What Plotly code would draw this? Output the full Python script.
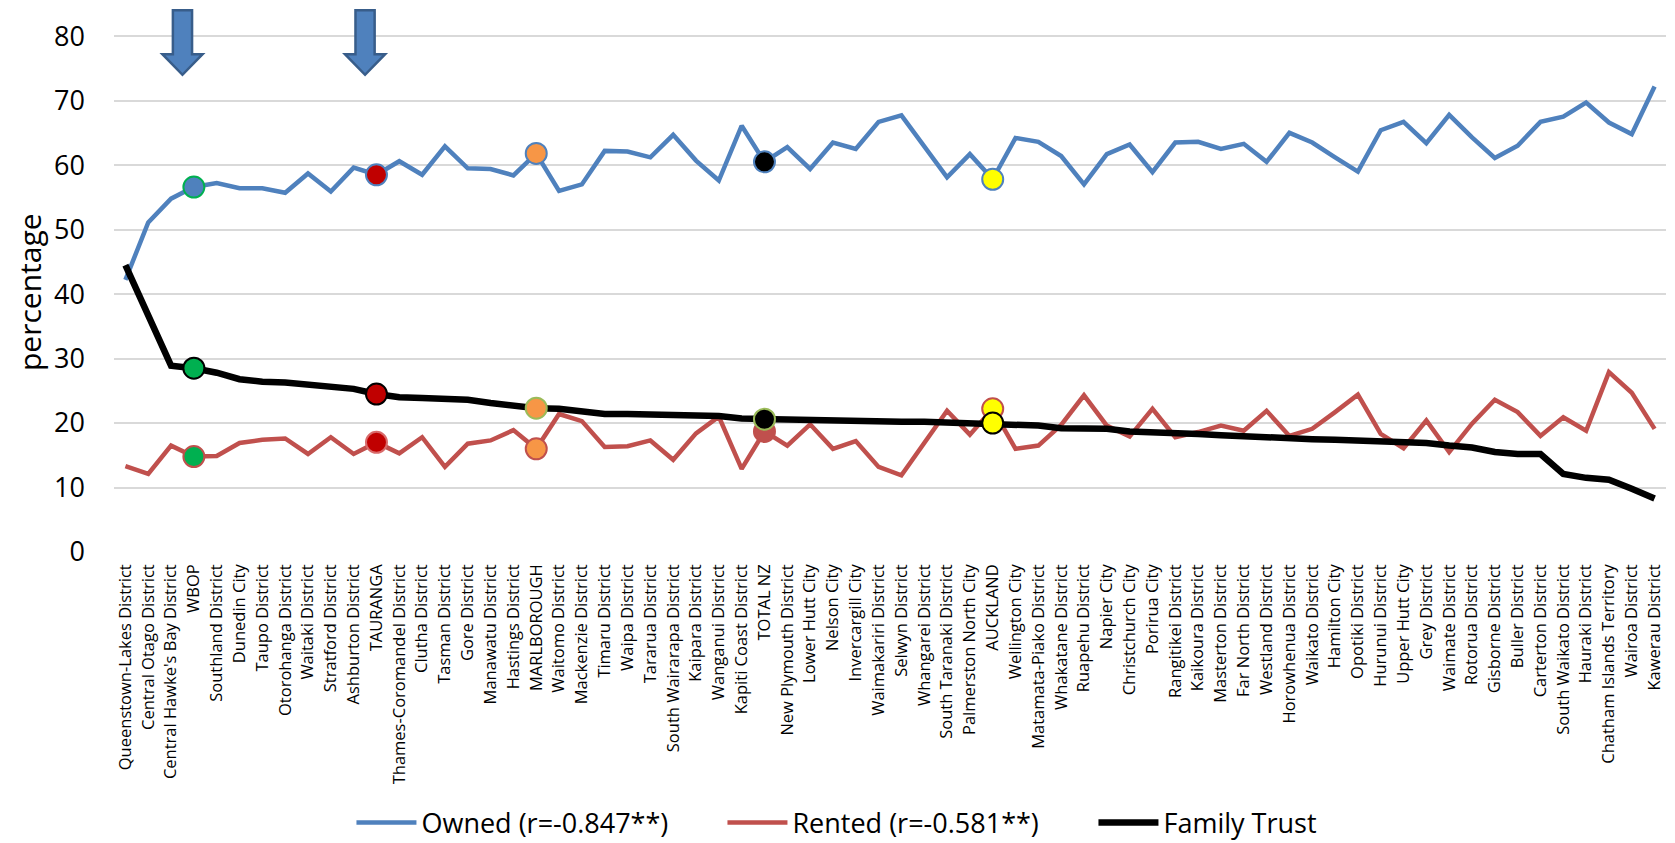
import plotly.graph_objects as go

categories = [
    "Queenstown-Lakes District", "Central Otago District", "Central Hawke's Bay District", "WBOP",
    "Southland District", "Dunedin City", "Taupo District", "Otorohanga District", "Waitaki District",
    "Stratford District", "Ashburton District", "TAURANGA", "Thames-Coromandel District", "Clutha District",
    "Tasman District", "Gore District", "Manawatu District", "Hastings District", "MARLBOROUGH",
    "Waitomo District", "Mackenzie District", "Timaru District", "Waipa District", "Tararua District",
    "South Wairarapa District", "Kaipara District", "Wanganui District", "Kapiti Coast District", "TOTAL NZ",
    "New Plymouth District", "Lower Hutt City", "Nelson City", "Invercargill City", "Waimakariri District",
    "Selwyn District", "Whangarei District", "South Taranaki District", "Palmerston North City", "AUCKLAND",
    "Wellington City", "Matamata-Piako District", "Whakatane District", "Ruapehu District", "Napier City",
    "Christchurch City", "Porirua City", "Rangitikei District", "Kaikoura District", "Masterton District",
    "Far North District", "Westland District", "Horowhenua District", "Waikato District", "Hamilton City",
    "Opotiki District", "Hurunui District", "Upper Hutt City", "Grey District", "Waimate District",
    "Rotorua District", "Gisborne District", "Buller District", "Carterton District", "South Waikato District",
    "Hauraki District", "Chatham Islands Territory", "Wairoa District", "Kawerau District",
]

owned = [
    42.2, 51.1, 54.8, 56.6, 57.2, 56.4, 56.4, 55.7, 58.7, 55.9,
    59.6, 58.5, 60.6, 58.5, 62.9, 59.5, 59.4, 58.4, 61.8, 56.0,
    57.0, 62.2, 62.1, 61.2, 64.7, 60.7, 57.6, 66.1, 60.5, 62.8,
    59.4, 63.5, 62.5, 66.7, 67.7, 62.9, 58.1, 61.7, 57.8, 64.2,
    63.6, 61.4, 57.0, 61.7, 63.2, 58.9, 63.5, 63.6, 62.5, 63.3,
    60.5, 65.0, 63.5, 61.2, 59.0, 65.4, 66.7, 63.4, 67.8, 64.3,
    61.1, 63.0, 66.7, 67.5, 69.7, 66.6, 64.8, 72.2,
]

rented = [
    13.3, 12.1, 16.5, 14.8, 14.9, 16.9, 17.4, 17.6, 15.2, 17.8,
    15.2, 17.0, 15.3, 17.8, 13.2, 16.8, 17.3, 18.9, 16.0, 21.4,
    20.3, 16.3, 16.4, 17.3, 14.3, 18.4, 21.0, 12.9, 18.7, 16.5,
    19.8, 16.0, 17.2, 13.2, 11.9, 16.9, 21.9, 18.2, 22.2, 16.0,
    16.5, 19.7, 24.3, 19.6, 17.9, 22.2, 17.8, 18.6, 19.6, 18.8,
    21.9, 18.0, 19.1, 21.7, 24.4, 18.3, 16.1, 20.4, 15.5, 19.9,
    23.6, 21.7, 18.0, 20.9, 18.8, 27.9, 24.7, 19.1,
]

family_trust = [
    44.5, 36.7, 28.9, 28.5, 27.8, 26.8, 26.4, 26.3, 25.9, 25.7,
    25.3, 24.5, 24.0, 23.9, 23.8, 23.6, 23.1, 22.7, 22.3, 22.2,
    21.8, 21.4, 21.4, 21.3, 21.2, 21.2, 21.1, 20.7, 20.6, 20.6,
    20.5, 20.4, 20.4, 20.2, 20.2, 20.2, 20.1, 20.1, 20.0, 19.8,
    19.6, 19.2, 19.1, 19.1, 18.7, 18.6, 18.6, 18.3, 18.1, 17.9,
    17.7, 17.5, 17.5, 17.4, 17.3, 17.2, 17.2, 16.9, 16.5, 16.2,
    15.5, 15.2, 15.2, 12.1, 11.5, 11.2, 9.8, 8.3,
]

series_names = ["Owned (r=-0.847**)", "Rented (r=-0.581**)", "Family Trust"]
y_ticks = [0, 10, 20, 30, 40, 50, 60, 70, 80]
y_title = "percentage"

highlight = ["WBOP", "TAURANGA", "MARLBOROUGH", "TOTAL NZ", "AUCKLAND"]
highlight_fill = {
    "owned": ["#4F81BD", "#C00000", "#F79646", "#000000", "#FFFF00"],
    "rented": ["#00B050", "#C00000", "#F79646", "#C0504D", "#FFFF00"],
    "trust": ["#00B050", "#C00000", "#F79646", "#000000", "#FFFF00"],
}
highlight_edge = {
    "owned": ["#00B050", "#4F81BD", "#4F81BD", "#4F81BD", "#4F81BD"],
    "rented": ["#C0504D", "#D96B6B", "#C0504D", "#C0504D", "#C0504D"],
    "trust": ["#000000", "#000000", "#9BBB59", "#9BBB59", "#000000"],
}
arrow_at = ["WBOP", "TAURANGA"]

FONT = "Open Sans, Lato, Noto Sans, sans-serif"
x = list(range(len(categories)))
hidx = [categories.index(c) for c in highlight]

fig = go.Figure()
line_specs = [
    ("owned", owned, "#4F81BD", 4.5, series_names[0]),
    ("rented", rented, "#C0504D", 4.5, series_names[1]),
    ("trust", family_trust, "#000000", 6.5, series_names[2]),
]
for key, vals, col, w, name in line_specs:
    fig.add_trace(go.Scatter(x=x, y=vals, mode="lines", name=name,
                             line=dict(color=col, width=w), hoverinfo="skip"))
for key, vals, col, w, name in line_specs:
    fig.add_trace(go.Scatter(
        x=[x[i] for i in hidx], y=[vals[i] for i in hidx], mode="markers", showlegend=False,
        marker=dict(size=21, color=highlight_fill[key],
                    line=dict(color=highlight_edge[key], width=2)),
        hoverinfo="skip"))

# down arrows
for c in arrow_at:
    cx = categories.index(c) - 0.5
    sw, hw = 0.42, 0.88
    top, base, tip = 84.0, 77.2, 74.0
    path = (f"M {cx-sw},{top} L {cx+sw},{top} L {cx+sw},{base} L {cx+hw},{base} "
            f"L {cx},{tip} L {cx-hw},{base} L {cx-sw},{base} Z")
    fig.add_shape(type="path", path=path, xref="x", yref="y",
                  fillcolor="#4F81BD", line=dict(color="#385D8A", width=2.5), layer="above")

fig.add_annotation(text=y_title, xref="paper", yref="paper", x=-0.0541, y=0.478,
                   xanchor="center", yanchor="middle", textangle=-90, showarrow=False,
                   font=dict(size=30, family=FONT, color="black"))

fig.update_layout(
    width=1667, height=835,
    margin=dict(l=106, r=9, t=0, b=291, autoexpand=False),
    paper_bgcolor="white", plot_bgcolor="white",
    font=dict(family=FONT, color="black"),
    showlegend=True,
    legend=dict(orientation="h", x=0.153, xanchor="left", y=-0.498, yanchor="middle",
                font=dict(size=27, family=FONT), itemwidth=60, entrywidthmode="pixels",
                entrywidth=296, bgcolor="rgba(0,0,0,0)"),
)
fig.update_xaxes(
    range=[-0.5, len(categories) - 0.5], tickmode="array", tickvals=x, ticktext=categories,
    tickangle=-90, tickfont=dict(size=16.5, family=FONT), showgrid=False, zeroline=False,
    showline=False, ticks="", ticklabelstandoff=8,
)
fig.update_yaxes(
    range=[0, 84.36], tickmode="array", tickvals=y_ticks, showgrid=True, gridcolor="#D9D9D9",
    gridwidth=1.5, zeroline=False, showline=False, tickfont=dict(size=27, family=FONT),
    ticklabelstandoff=28,
)

fig.write_html("out.html")
